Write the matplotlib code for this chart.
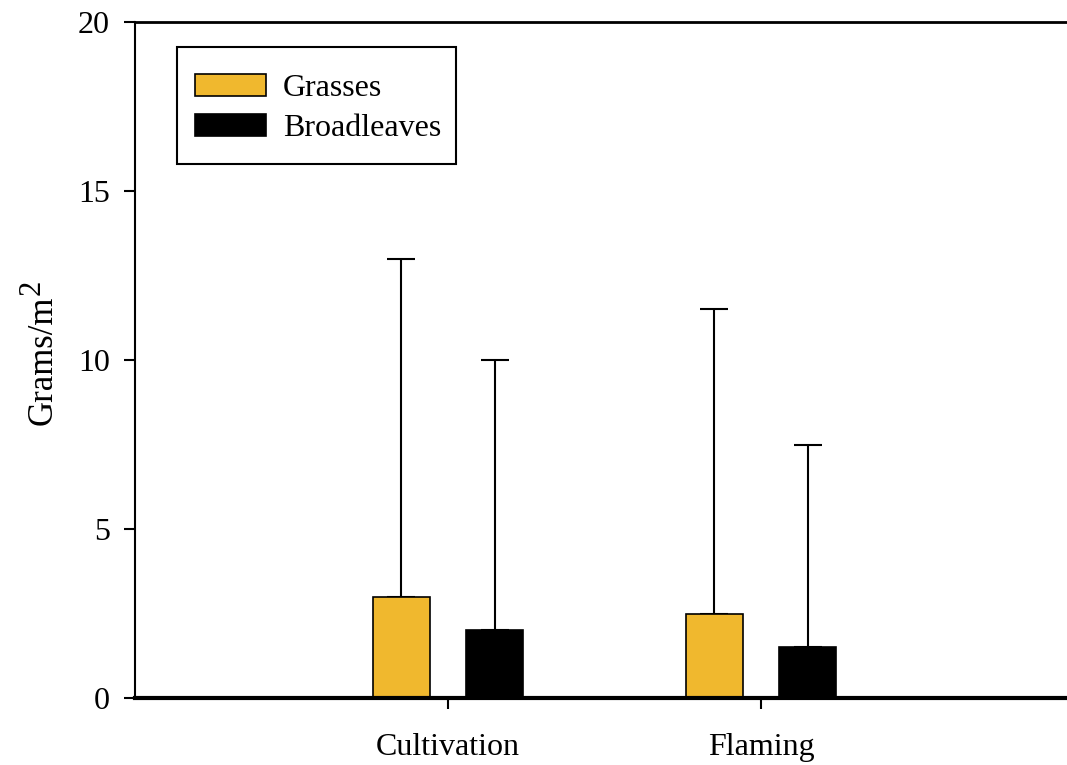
import matplotlib
matplotlib.use('Agg')
import matplotlib.pyplot as plt
from matplotlib.patches import Rectangle
import numpy as np

categories = ['Cultivation', 'Flaming']
grasses = [3.0, 2.5]
grasses_err = [10.0, 9.0]
broadleaves = [2.0, 1.5]
broadleaves_err = [8.0, 6.0]
yticks = [0, 5, 10, 15, 20]

plt.rcParams['font.family'] = ['Liberation Serif', 'DejaVu Serif']

fig = plt.figure(figsize=(10.67, 7.65), dpi=100)
ax = fig.add_axes([135 / 1067, 67 / 765, 939 / 1067, 676 / 765])

x = np.arange(1, len(categories) + 1)
w = 0.182
off = 0.1486

ax.bar(x - off, grasses, w, color='#F0B82E', edgecolor='black', linewidth=1.2,
       label='Grasses', zorder=2)
ax.bar(x + off, broadleaves, w, color='black', edgecolor='black', linewidth=1.2,
       label='Broadleaves', zorder=2)
ax.errorbar(x - off, grasses, yerr=[np.zeros(len(grasses)), grasses_err], fmt='none',
            ecolor='black', elinewidth=1.5, capsize=10, capthick=1.5, zorder=1)
ax.errorbar(x + off, broadleaves, yerr=[np.zeros(len(broadleaves)), broadleaves_err],
            fmt='none', ecolor='black', elinewidth=1.5, capsize=10, capthick=1.5, zorder=1)

ax.set_xlim(0, 3)
ax.set_ylim(0, 20)
ax.set_xticks(x)
ax.set_xticklabels(categories, fontsize=23)
ax.set_yticks(yticks)
ax.set_yticklabels([str(t) for t in yticks], fontsize=23)
ax.tick_params(axis='both', direction='out', length=8, width=1.5, pad=10)
ax.tick_params(axis='x', pad=17)
ylab = ax.set_ylabel('Grams/m', fontsize=25, labelpad=13)
# large raised superscript like the original
ax.annotate('2', xy=(0, 1), xycoords=ylab, xytext=(14, 0), textcoords='offset points',
            rotation=90, ha='right', va='bottom', fontsize=22)

ax.spines['right'].set_visible(False)
ax.spines['left'].set_linewidth(1.5)
ax.spines['top'].set_linewidth(2)
ax.spines['bottom'].set_linewidth(3)

# legend box drawn separately so the padding matches
ax.add_patch(Rectangle((0.0447, 0.790), 0.297, 0.173, transform=ax.transAxes,
                       facecolor='white', edgecolor='black', linewidth=1.5,
                       zorder=3, clip_on=False))
leg = ax.legend(loc='upper left', bbox_to_anchor=(0.0639, 0.923), borderaxespad=0,
                frameon=False, fontsize=23, handlelength=2.22, handleheight=0.66,
                borderpad=0, labelspacing=0.35, handletextpad=0.53)
leg.set_zorder(4)

fig.savefig('out.png', dpi=100)
